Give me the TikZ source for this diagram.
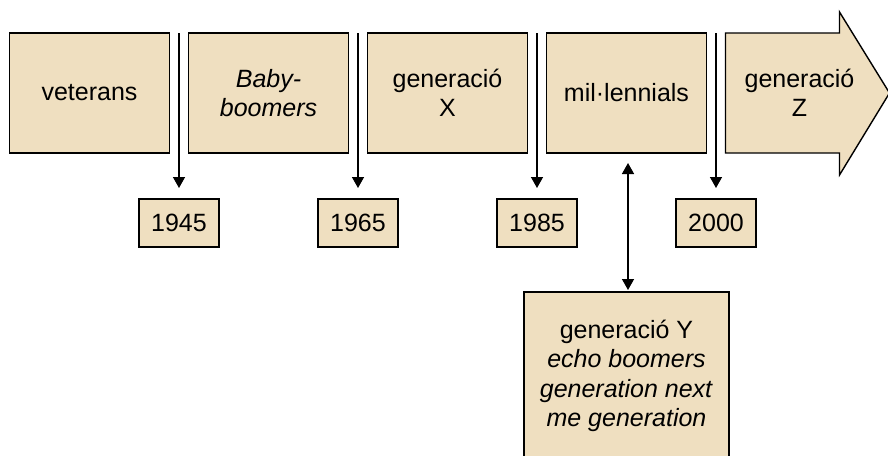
\documentclass[tikz,border=0pt]{standalone}
\usepackage{fontspec}
\setmainfont{Liberation Sans}
\usetikzlibrary{positioning,calc,arrows.meta}
\definecolor{GenBeige}{RGB}{239,223,192}
\tikzset{
    genbox/.style={draw=black, fill=GenBeige, rectangle, line width=1.4pt,
                   minimum width=160pt, minimum height=120pt, inner sep=0pt,
                   outer sep=0pt, align=center, font=\fontsize{25}{29.5}\selectfont},
    zshaft/.style={rectangle, minimum width=114pt, minimum height=120pt,
                   inner sep=0pt, outer sep=0pt},
    zarrow/.style={draw=black, fill=GenBeige, line width=1.4pt, line join=miter},
    gentext/.style={align=center, inner sep=0pt, font=\fontsize{25}{29.5}\selectfont},
    yearbox/.style={draw=black, fill=GenBeige, rectangle, line width=1.4pt,
                    minimum width=80pt, minimum height=48pt, inner sep=0pt,
                    outer sep=0pt, font=\fontsize{25}{29.5}\selectfont},
    ybox/.style={genbox, minimum width=205pt, minimum height=168pt},
    % Arrow styles
    marker/.style={-{Triangle[length=11pt,width=12pt]}, line width=1.4pt},
    twoway/.style={{Triangle[length=11pt,width=12pt]}-{Triangle[length=11pt,width=12pt]}, line width=1.4pt}
}

\begin{document}
\begin{tikzpicture}[x=1pt, y=-1pt, node distance=19pt]
    \useasboundingbox (0,0) rectangle (888,455);
    \clip (0,0) rectangle (888,455);

    % Generation boxes
    \node[genbox] (vet) at (89.5,93) {veterans};
    \node[genbox, right=of vet] (boom) {\textit{Baby-}\\\textit{boomers}};
    \node[genbox, right=of boom] (genx) {generació\\X};
    \node[genbox, right=of genx] (mill) {mil·lennials};
    \node[zshaft, right=of mill] (genzs) {};

    % Generation Z arrow
    \filldraw[zarrow] (genzs.north west) -- (genzs.north east) -- ++(0,-21)
        -- ($(genzs.east)+(50,0)$) -- ($(genzs.south east)+(0,22)$)
        -- (genzs.south east) -- (genzs.south west) -- cycle;
    \node[gentext] (genz) at ($(genzs.center)+(17,0)$) {generació\\Z};

    % Year markers
    \foreach \l/\r/\yr in {vet/boom/1945, boom/genx/1965, genx/mill/1985, mill/genzs/2000} {
        \coordinate (m\yr) at ($(\l.north east)!0.5!(\r.north west)$);
        \node[yearbox, anchor=north] (y\yr) at ($(m\yr)+(0,166)$) {\yr};
        \draw[marker, shorten >=11pt] (m\yr) -- (y\yr);
    }

    % Generation Y
    \node[ybox, below=139pt of mill] (geny)
        {generació Y\\\textit{echo boomers}\\\textit{generation next}\\\textit{me generation}};
    \draw[twoway, shorten <=10pt, shorten >=2pt] ([xshift=1.5pt]mill.south) -- ([xshift=1.5pt]geny.north);
\end{tikzpicture}
\end{document}
